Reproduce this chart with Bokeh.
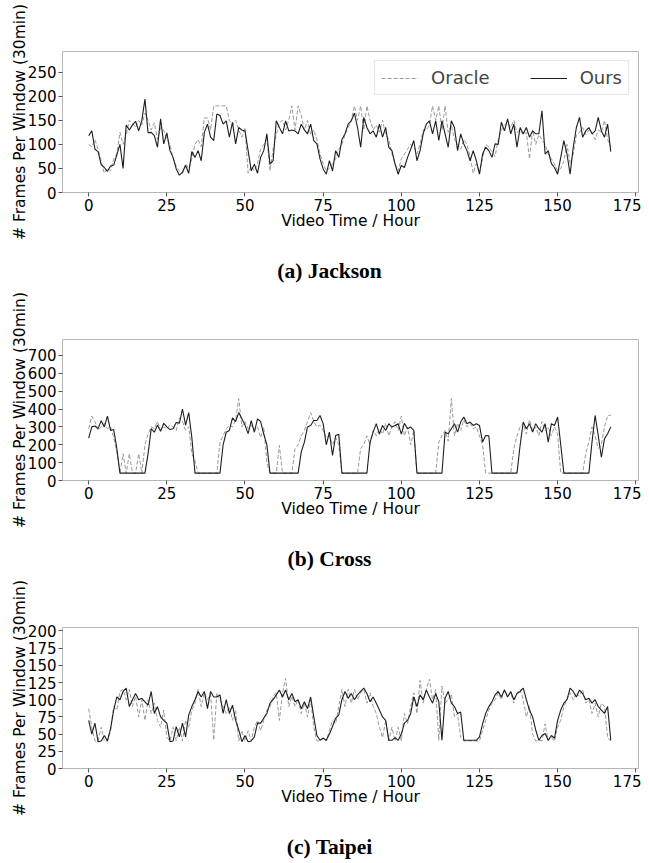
from bokeh.plotting import figure
from bokeh.layouts import column
from bokeh.models import Range1d, FixedTicker, Legend, LegendItem, Div
from bokeh.embed import file_html
from bokeh.resources import INLINE

hours = list(range(168))
x_ticks = [0, 25, 50, 75, 100, 125, 150, 175]

jackson_ours = [
    118, 128, 90, 85, 58, 52, 44, 55, 57, 78,
    100, 50, 140, 130, 140, 148, 128, 150, 194, 124,
    125, 118, 94, 153, 101, 124, 87, 73, 49, 36,
    42, 56, 40, 85, 73, 87, 66, 125, 142, 115,
    108, 163, 160, 142, 149, 115, 146, 101, 135, 130,
    128, 87, 45, 59, 40, 73, 87, 122, 59, 66,
    149, 135, 122, 149, 128, 130, 128, 122, 142, 130,
    122, 142, 108, 101, 70, 49, 38, 66, 45, 87,
    73, 110, 122, 142, 149, 165, 135, 94, 156, 135,
    122, 128, 115, 142, 115, 135, 94, 87, 59, 38,
    56, 52, 73, 90, 108, 66, 87, 122, 142, 149,
    122, 149, 108, 149, 122, 94, 149, 135, 87, 122,
    101, 87, 66, 87, 66, 38, 80, 94, 87, 73,
    101, 100, 146, 128, 153, 122, 142, 94, 135, 122,
    135, 115, 128, 122, 122, 170, 80, 87, 60, 52,
    38, 73, 108, 80, 38, 94, 135, 156, 115, 128,
    135, 122, 128, 156, 128, 115, 142, 85,
]
jackson_oracle = [
    100, 95, 110, 90, 65, 40, 50, 45, 70, 80,
    125, 100, 120, 150, 145, 135, 150, 140, 165, 150,
    130, 145, 110, 135, 130, 110, 100, 70, 55, 45,
    40, 60, 50, 70, 100, 110, 95, 155, 155, 130,
    180, 180, 180, 180, 180, 150, 140, 150, 130, 115,
    135, 40, 55, 45, 60, 90, 100, 110, 45, 90,
    120, 145, 150, 130, 150, 180, 130, 180, 160, 130,
    150, 120, 130, 110, 80, 60, 45, 50, 60, 70,
    90, 100, 120, 135, 150, 180, 150, 180, 130, 180,
    150, 130, 140, 125, 150, 120, 110, 80, 60, 45,
    70, 80, 90, 100, 95, 80, 100, 130, 130, 140,
    180, 150, 180, 130, 180, 125, 140, 110, 100, 90,
    110, 100, 75, 40, 60, 40, 70, 100, 95, 85,
    75, 110, 130, 140, 145, 135, 150, 125, 130, 120,
    125, 70, 130, 100, 120, 110, 100, 80, 70, 60,
    45, 50, 65, 100, 60, 80, 120, 125, 135, 120,
    130, 125, 110, 130, 125, 150, 110, 95,
]

cross_ours = [
    237, 300, 305, 290, 335, 300, 360, 280, 285, 180,
    41, 41, 41, 41, 41, 41, 41, 41, 41, 150,
    290, 270, 310, 275, 320, 300, 285, 290, 325, 320,
    400, 310, 380, 240, 41, 41, 41, 41, 41, 41,
    41, 41, 41, 200, 270, 280, 350, 330, 380, 345,
    310, 262, 335, 270, 345, 330, 260, 200, 41, 41,
    41, 41, 41, 41, 41, 41, 41, 41, 160, 215,
    300, 308, 336, 336, 364, 318, 200, 271, 140, 252,
    258, 41, 41, 41, 41, 41, 41, 41, 41, 41,
    215, 271, 318, 260, 308, 280, 318, 299, 308, 318,
    260, 320, 290, 299, 280, 41, 41, 41, 41, 41,
    41, 41, 41, 41, 270, 262, 290, 318, 271, 327,
    355, 318, 327, 308, 318, 308, 215, 252, 250, 41,
    41, 41, 41, 41, 41, 41, 41, 41, 196, 327,
    290, 318, 271, 318, 290, 271, 318, 215, 318, 308,
    355, 200, 41, 41, 41, 41, 41, 41, 41, 41,
    41, 215, 364, 252, 130, 234, 262, 300,
]
cross_oracle = [
    290, 360, 330, 280, 300, 320, 290, 300, 240, 160,
    41, 150, 41, 150, 41, 41, 150, 41, 200, 260,
    300, 290, 330, 280, 300, 290, 310, 300, 280, 350,
    330, 280, 300, 150, 110, 41, 41, 41, 41, 41,
    41, 41, 215, 250, 290, 310, 300, 340, 458, 300,
    330, 290, 310, 280, 300, 240, 300, 100, 41, 41,
    41, 196, 41, 41, 41, 41, 178, 200, 250, 280,
    330, 380, 330, 300, 310, 280, 240, 250, 200, 240,
    200, 41, 41, 41, 41, 41, 41, 180, 200, 250,
    200, 280, 250, 290, 260, 320, 250, 300, 330, 280,
    360, 250, 300, 200, 280, 41, 41, 41, 41, 41,
    41, 41, 215, 250, 280, 220, 458, 250, 320, 280,
    340, 300, 320, 290, 300, 250, 200, 41, 41, 41,
    41, 41, 41, 41, 41, 41, 178, 250, 300, 320,
    260, 340, 280, 300, 250, 330, 280, 300, 250, 300,
    260, 41, 41, 41, 41, 41, 41, 41, 41, 150,
    215, 300, 250, 180, 200, 300, 364, 364,
]

taipei_ours = [
    70, 50, 66, 39, 40, 48, 40, 58, 85, 104,
    100, 112, 117, 90, 100, 109, 100, 102, 97, 92,
    112, 80, 90, 75, 70, 66, 39, 40, 61, 46,
    66, 46, 78, 90, 100, 112, 104, 112, 87, 112,
    104, 104, 107, 80, 100, 80, 92, 70, 56, 39,
    48, 39, 40, 46, 66, 66, 73, 80, 95, 100,
    107, 114, 104, 114, 100, 109, 97, 100, 87, 97,
    87, 104, 75, 48, 41, 44, 41, 50, 61, 73,
    78, 100, 112, 102, 109, 100, 107, 112, 117, 109,
    97, 104, 95, 85, 75, 70, 41, 41, 45, 41,
    50, 66, 70, 80, 104, 90, 107, 100, 114, 104,
    95, 109, 97, 41, 102, 112, 95, 90, 80, 82,
    41, 41, 41, 41, 41, 46, 65, 80, 90, 97,
    107, 112, 104, 114, 104, 112, 100, 109, 112, 117,
    100, 85, 75, 56, 41, 48, 51, 41, 48, 44,
    70, 85, 95, 100, 117, 112, 104, 114, 109, 100,
    102, 95, 100, 90, 85, 80, 90, 41,
]
taipei_oracle = [
    87, 60, 40, 40, 60, 40, 40, 55, 90, 85,
    112, 115, 100, 115, 90, 105, 75, 100, 70, 100,
    80, 95, 70, 60, 85, 45, 40, 60, 40, 60,
    40, 70, 60, 85, 95, 115, 90, 110, 100, 108,
    41, 110, 100, 90, 80, 90, 70, 85, 40, 55,
    40, 55, 40, 60, 70, 55, 70, 85, 90, 105,
    110, 70, 110, 131, 90, 105, 90, 100, 80, 95,
    75, 100, 60, 40, 40, 45, 40, 55, 70, 65,
    90, 115, 90, 115, 95, 115, 100, 110, 115, 95,
    110, 90, 80, 60, 45, 70, 40, 60, 40, 60,
    40, 80, 65, 90, 110, 80, 128, 95, 115, 130,
    100, 115, 41, 120, 95, 100, 108, 75, 80, 45,
    40, 40, 40, 40, 40, 40, 55, 70, 85, 95,
    100, 110, 100, 115, 105, 110, 95, 110, 115, 100,
    75, 90, 50, 40, 41, 40, 65, 40, 45, 40,
    60, 70, 90, 100, 110, 100, 110, 105, 115, 95,
    100, 80, 95, 75, 95, 90, 45, 40,
]

panels = [
    dict(caption="(a) Jackson", oracle=jackson_oracle, ours=jackson_ours,
         ymax=293, yticks=[0, 50, 100, 150, 200, 250], cap_h=42, legend=True),
    dict(caption="(b) Cross", oracle=cross_oracle, ours=cross_ours,
         ymax=789, yticks=[0, 100, 200, 300, 400, 500, 600, 700], cap_h=42, legend=False),
    dict(caption="(c) Taipei", oracle=taipei_oracle, ours=taipei_ours,
         ymax=205, yticks=[0, 25, 50, 75, 100, 125, 150, 175, 200], cap_h=41, legend=False),
]

SANS = "DejaVu Sans"
TOP = 51
FRAME_H = 141
BOTTOM = 54
W = 641
items = []
for cfg in panels:
    h = TOP + FRAME_H + BOTTOM
    p = figure(width=W, height=h, output_backend="svg", toolbar_location=None,
               x_range=Range1d(-8.375, 175.875), y_range=Range1d(0, cfg["ymax"]),
               min_border_left=62, min_border_right=3, min_border_top=TOP,
               min_border_bottom=BOTTOM)
    p.grid.visible = False
    p.outline_line_color = "#b5b5b5"
    p.outline_line_width = 1
    p.background_fill_color = "white"
    p.border_fill_color = "white"

    r_or = p.line(hours, cfg["oracle"], line_color="#9a9a9a", line_width=1,
                  line_dash="4 2")
    r_us = p.line(hours, cfg["ours"], line_color="#1e1e1e", line_width=1.1)

    for ax in (p.xaxis[0], p.yaxis[0]):
        ax.axis_line_color = None
        ax.major_tick_line_color = "#555555"
        ax.major_tick_out = 4
        ax.major_tick_in = 0
        ax.minor_tick_line_color = None
        ax.major_label_text_font = SANS
        ax.major_label_text_font_size = "15px"
        ax.major_label_text_color = "black"
        ax.axis_label_text_font = SANS
        ax.axis_label_text_font_size = "15.5px"
        ax.axis_label_text_font_style = "normal"
        ax.axis_label_text_color = "black"
    p.xaxis[0].major_label_standoff = 2
    p.xaxis[0].axis_label_standoff = -2
    p.yaxis[0].major_label_standoff = 2
    p.yaxis[0].axis_label_standoff = -4
    p.xaxis.ticker = FixedTicker(ticks=x_ticks)
    p.yaxis.ticker = FixedTicker(ticks=cfg["yticks"])
    p.xaxis.axis_label = "Video Time / Hour"
    p.yaxis.axis_label = "# Frames Per Window (30min)"

    if cfg["legend"]:
        leg = Legend(items=[LegendItem(label="Oracle", renderers=[r_or]),
                            LegendItem(label="Ours", renderers=[r_us])],
                     orientation="horizontal", location="top_right")
        leg.label_text_font = SANS
        leg.label_text_font_size = "18px"
        leg.glyph_width = 37
        leg.glyph_height = 20
        leg.label_standoff = 13
        leg.spacing = 40
        leg.padding = 6
        leg.margin = 9
        leg.border_line_color = "#d0d0d0"
        leg.border_line_width = 1
        leg.background_fill_alpha = 0.85
        p.add_layout(leg)
    items.append(p)

    cap_html = (
        '<div style="box-sizing:border-box; width:%dpx; padding-left:18px; '
        'padding-top:14px; text-align:center; font-family:\'Liberation Serif\'; '
        'font-weight:bold; font-size:21.5px; line-height:22px; color:black;">%s</div>'
        % (W, cfg["caption"])
    )
    items.append(Div(text=cap_html, width=W, height=cfg["cap_h"], margin=0))

layout = column(*items, spacing=0)
open("out.html", "w").write(file_html(layout, INLINE))
